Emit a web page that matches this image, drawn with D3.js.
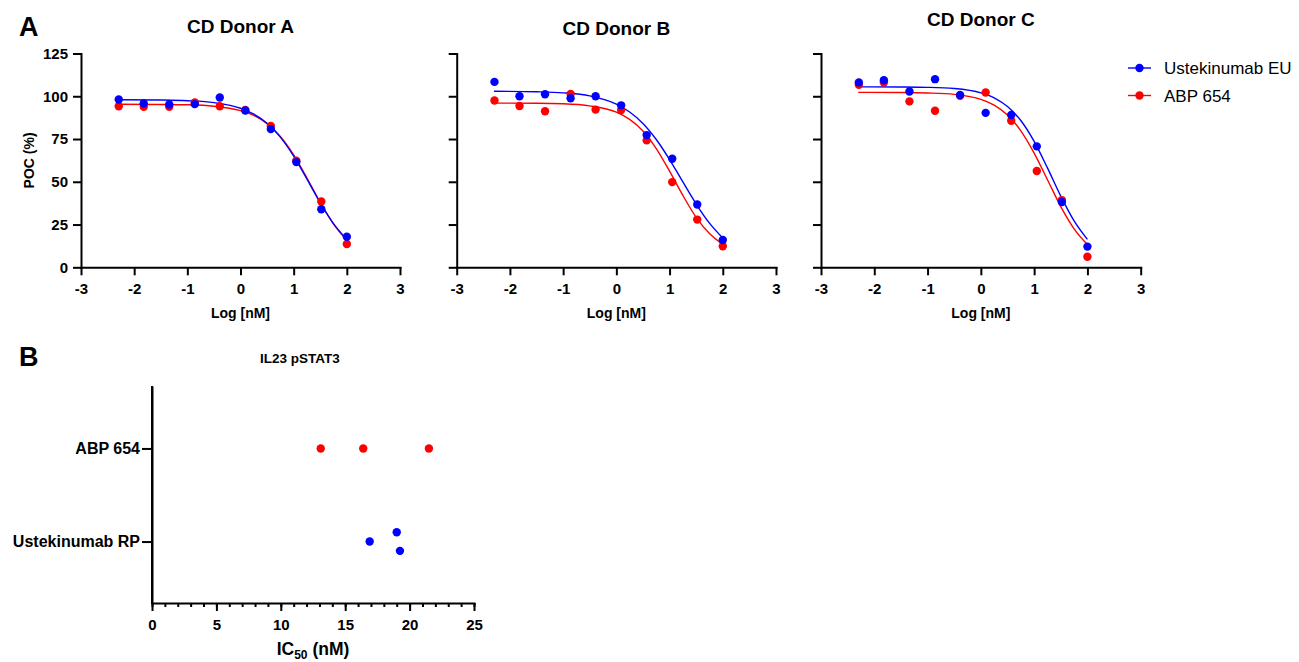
<!DOCTYPE html>
<html>
<head>
<meta charset="utf-8">
<script src="https://cdn.jsdelivr.net/npm/d3@7"></script>
<style>
  body { margin: 0; background: #fff; }
  svg { font-family: "Liberation Sans", Arial, Helvetica, sans-serif; }
</style>
</head>
<body>
<div id="chart"></div>
<script>
// ---- dati ----
const logDose = [-2.29, -1.82, -1.34, -0.86, -0.39, 0.09, 0.57, 1.05, 1.52, 2.0];

const donorA_ust = [98.1, 95.8, 95.2, 95.4, 99.3, 91.7, 80.8, 61.5, 33.9, 17.9];
const donorA_abp = [94.2, 93.8, 93.8, 96.4, 94.2, 92.0, 82.7, 62.3, 38.5, 13.6];
const donorB_ust = [108.4, 100.0, 101.2, 98.8, 100.0, 94.7, 77.3, 63.5, 36.7, 16.0];
const donorB_abp = [97.5, 94.3, 91.2, 101.4, 92.2, 92.0, 74.2, 49.8, 27.9, 12.3];
const donorC_ust = [108.1, 109.4, 102.8, 110.0, 100.7, 90.3, 89.0, 70.7, 38.2, 12.1];
const donorC_abp = [106.7, 108.1, 97.0, 91.5, 100.3, 102.2, 85.7, 56.3, 39.3, 6.2];

// curve di fit
const fitDose = [-2.3, -1.5, -1, -0.5, 0, 0.25, 0.5, 0.75, 1, 1.25, 1.5, 1.75, 2];
const fitA_ust = [98.0, 97.8, 97.4, 96.3, 93.0, 89.5, 84.2, 76.1, 65.0, 51.6, 37.7, 25.5, 16.2];
const fitA_abp = [95.3, 95.2, 95.0, 94.2, 91.6, 88.8, 84.0, 76.5, 65.7, 52.2, 38.0, 25.3, 15.8];
const fitB_ust = [102.9, 102.6, 102.0, 100.2, 95.4, 90.8, 84.1, 74.7, 63.0, 49.9, 37.0, 25.8, 17.1];
const fitB_abp = [96.0, 95.9, 95.6, 94.4, 90.7, 86.5, 79.7, 69.4, 56.2, 42.0, 29.2, 19.7, 13.4];
const fitC_ust = [105.5, 105.4, 105.2, 104.5, 102.0, 99.1, 94.0, 85.8, 73.6, 58.1, 41.6, 27.1, 16.3];
const fitC_abp = [102.3, 102.2, 101.9, 101.1, 98.2, 94.8, 89.0, 79.8, 66.8, 51.2, 35.5, 22.5, 13.3];

const doseTicks = [-3, -2, -1, 0, 1, 2, 3];
const pocTicks = [0, 25, 50, 75, 100, 125];
const legendNames = ['Ustekinumab EU', 'ABP 654'];

// pannello B
const ic50Groups = ['ABP 654', 'Ustekinumab RP'];
const ic50_abp = [13.1, 16.4, 21.5];
const ic50_ust = [16.9, 19.0, 19.25];
const ic50_ustJitter = [0, -0.1, 0.1]; // spostamento verticale (frazione della categoria)
const ic50Ticks = [0, 5, 10, 15, 20, 25];

// ---- setup ----
const width = 1299, height = 662;
const blue = '#0000ff', red = '#ff0000';
const dotR = 4.2;

const svg = d3.select('#chart').append('svg')
    .attr('width', width)
    .attr('height', height);

svg.append('rect').attr('width', width).attr('height', height).attr('fill', '#fff');

function styleAxis(g, size) {
    g.attr('font-family', null).attr('font-size', size).attr('font-weight', 'bold');
    g.select('.domain').attr('stroke', '#000').attr('stroke-width', 2).attr('stroke-linecap', 'square');
    g.selectAll('.tick line').attr('stroke', '#000').attr('stroke-width', 2);
    g.selectAll('.tick text').attr('fill', '#000');
}

const panels = [
    { title: 'CD Donor A', left: 81, right: 400, titleY: 33, showY: true,
      ust: donorA_ust, abp: donorA_abp, fitUst: fitA_ust, fitAbp: fitA_abp },
    { title: 'CD Donor B', left: 456.7, right: 776, titleY: 35, showY: false,
      ust: donorB_ust, abp: donorB_abp, fitUst: fitB_ust, fitAbp: fitB_abp },
    { title: 'CD Donor C', left: 821, right: 1140.7, titleY: 26, showY: false,
      ust: donorC_ust, abp: donorC_abp, fitUst: fitC_ust, fitAbp: fitC_abp }
];

const y = d3.scaleLinear().domain([0, 125]).range([267.3, 53.5]);

// lettere dei pannelli
svg.append('text').attr('x', 19).attr('y', 35.5)
    .attr('font-size', 27).attr('font-weight', 'bold').text('A');
svg.append('text').attr('x', 19).attr('y', 366)
    .attr('font-size', 27).attr('font-weight', 'bold').text('B');

panels.forEach(p => {
    const x = d3.scaleLinear().domain([-3, 3]).range([p.left, p.right]);
    const g = svg.append('g');

    g.append('g')
        .attr('transform', `translate(0,${y(0)})`)
        .call(d3.axisBottom(x).tickValues(doseTicks).tickSize(8).tickSizeOuter(0)
            .tickPadding(8).tickFormat(d => String(d)))
        .call(ax => styleAxis(ax, 15));

    g.append('g')
        .attr('transform', `translate(${x(-3)},0)`)
        .call(d3.axisLeft(y).tickValues(pocTicks).tickSize(8).tickSizeOuter(0)
            .tickPadding(5).tickFormat(d => p.showY ? String(d) : ''))
        .call(ax => styleAxis(ax, 15));

    g.append('text')
        .attr('x', (p.left + p.right) / 2)
        .attr('y', p.titleY)
        .attr('text-anchor', 'middle')
        .attr('font-size', 19)
        .attr('font-weight', 'bold')
        .text(p.title);

    g.append('text')
        .attr('x', (p.left + p.right) / 2)
        .attr('y', 318)
        .attr('text-anchor', 'middle')
        .attr('font-size', 14)
        .attr('font-weight', 'bold')
        .text('Log [nM]');

    if (p.showY) {
        g.append('text')
            .attr('transform', `translate(34,${(y(0) + y(125)) / 2}) rotate(-90)`)
            .attr('text-anchor', 'middle')
            .attr('font-size', 14)
            .attr('font-weight', 'bold')
            .text('POC (%)');
    }

    const line = d3.line()
        .x((d, i) => x(fitDose[i]))
        .y(d => y(d))
        .curve(d3.curveMonotoneX);

    g.append('path').datum(p.fitAbp)
        .attr('d', line).attr('fill', 'none')
        .attr('stroke', red).attr('stroke-width', 1.4);
    g.append('path').datum(p.fitUst)
        .attr('d', line).attr('fill', 'none')
        .attr('stroke', blue).attr('stroke-width', 1.4);

    g.selectAll('circle.abp').data(p.abp).enter().append('circle')
        .attr('class', 'abp')
        .attr('cx', (d, i) => x(logDose[i]))
        .attr('cy', d => y(d))
        .attr('r', dotR)
        .attr('fill', red);

    g.selectAll('circle.ust').data(p.ust).enter().append('circle')
        .attr('class', 'ust')
        .attr('cx', (d, i) => x(logDose[i]))
        .attr('cy', d => y(d))
        .attr('r', dotR)
        .attr('fill', blue);
});

// legenda
const legend = svg.append('g').attr('transform', 'translate(1128,68)');
legendNames.forEach((name, i) => {
    const row = legend.append('g').attr('transform', `translate(0,${i * 27.5})`);
    const c = i === 0 ? blue : red;
    row.append('line').attr('x1', 0).attr('x2', 23).attr('y1', 0).attr('y2', 0)
        .attr('stroke', c).attr('stroke-width', 1.4);
    row.append('circle').attr('cx', 11.5).attr('cy', 0).attr('r', dotR).attr('fill', c);
    row.append('text').attr('x', 36).attr('y', 6).attr('font-size', 17).text(name);
});

// ---- pannello B ----
const xB = d3.scaleLinear().domain([0, 25]).range([152, 474]);
const yB = d3.scalePoint().domain(ic50Groups).range([387, 603]).padding(0.66);
const gB = svg.append('g');

gB.append('g')
    .attr('transform', 'translate(0,603)')
    .call(d3.axisBottom(xB).ticks(25).tickSize(4).tickSizeOuter(0).tickFormat(''))
    .call(ax => styleAxis(ax, 15));

gB.append('g')
    .attr('transform', 'translate(0,603)')
    .call(d3.axisBottom(xB).tickValues(ic50Ticks).tickSize(8).tickSizeOuter(0)
        .tickPadding(8).tickFormat(d => String(d)))
    .call(ax => styleAxis(ax, 15));

gB.append('g')
    .attr('transform', 'translate(152,0)')
    .call(d3.axisLeft(yB).tickSize(10).tickSizeOuter(0).tickPadding(2))
    .call(ax => styleAxis(ax, 16));
gB.select('.domain').attr('d', null);
gB.append('line').attr('x1', 152).attr('x2', 152).attr('y1', 387).attr('y2', 603)
    .attr('stroke', '#000').attr('stroke-width', 2).attr('stroke-linecap', 'square');

gB.append('text')
    .attr('x', 300).attr('y', 362.5)
    .attr('text-anchor', 'middle')
    .attr('font-size', 13.5)
    .attr('font-weight', 'bold')
    .text('IL23 pSTAT3');

const ic50Label = gB.append('text')
    .attr('x', 313).attr('y', 655)
    .attr('text-anchor', 'middle')
    .attr('font-size', 17.5)
    .attr('font-weight', 'bold');
ic50Label.append('tspan').text('IC');
ic50Label.append('tspan').attr('font-size', 12).attr('dy', 4).text('50');
ic50Label.append('tspan').attr('dy', -4).text(' (nM)');

const stepB = yB.step();

gB.selectAll('circle.abp').data(ic50_abp).enter().append('circle')
    .attr('cx', d => xB(d))
    .attr('cy', yB('ABP 654'))
    .attr('r', dotR)
    .attr('fill', red);

gB.selectAll('circle.ust').data(ic50_ust).enter().append('circle')
    .attr('cx', d => xB(d))
    .attr('cy', (d, i) => yB('Ustekinumab RP') + ic50_ustJitter[i] * stepB)
    .attr('r', dotR)
    .attr('fill', blue);
</script>
</body>
</html>
